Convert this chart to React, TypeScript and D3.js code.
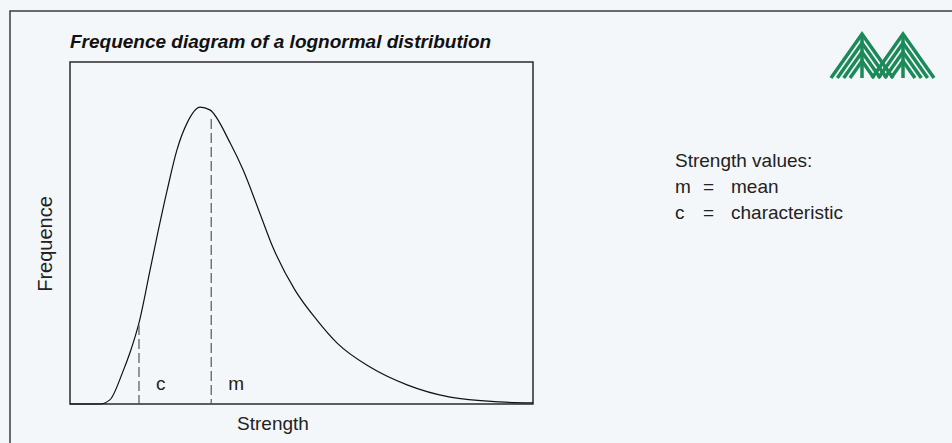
import React, { useEffect, useRef } from 'react';
import * as d3 from 'd3';

// Curve (strength and frequence in arbitrary 0-100 units)
const strengthValues = [0, 6.5, 8.6, 11.4, 13.0, 14.9, 17.3, 19.0, 21.0, 23.1, 25.3, 28.1, 30.2, 34.6, 37.4, 41.0, 43.8, 48.6, 53.3, 57.7, 64.8, 72.8, 82.1, 92.9, 100];
const frequenceValues = [0, 0, 1.2, 9.4, 15.2, 23.7, 39.2, 50.3, 62.6, 74.3, 82.2, 86.8, 86.0, 76.3, 68.4, 55.8, 45.9, 33.3, 24.6, 17.8, 10.8, 5.6, 2.0, 0.6, 0.3];

// Marker lines for characteristic and mean strength
const markerLabels = ['c', 'm'];
const markerStrength = [14.9, 30.5];
const markerTop = [23.1, 83.3];

const legendTitle = 'Strength values:';
const legendKeys = ['m', 'c'];
const legendNames = ['mean', 'characteristic'];

const title = 'Frequence diagram of a lognormal distribution';
const xLabel = 'Strength';
const yLabel = 'Frequence';

const W = 952;
const H = 443;
const FONT = '"Liberation Sans", Arial, Helvetica, sans-serif';

const App = () => {
  const svgRef = useRef<SVGSVGElement>(null);

  useEffect(() => {
    const svg = d3.select(svgRef.current);
    svg.selectAll('*').remove();

    // background + outer frame
    svg.append('rect').attr('width', W).attr('height', H).attr('fill', '#f4f7fa');
    svg.append('rect')
      .attr('x', 10).attr('y', 11)
      .attr('width', W + 20).attr('height', H + 20)
      .attr('fill', 'none').attr('stroke', '#3c3c3c').attr('stroke-width', 1.5);

    const box = { left: 70, top: 62, right: 533, bottom: 404 };

    const x = d3.scaleLinear().domain([0, 100]).range([box.left, box.right]);
    const y = d3.scaleLinear().domain([0, 100]).range([box.bottom, box.top]);

    // title
    svg.append('text')
      .attr('x', 70).attr('y', 48)
      .attr('font-family', FONT)
      .attr('font-size', 19)
      .attr('font-weight', 'bold')
      .attr('font-style', 'italic')
      .attr('fill', '#111')
      .text(title);

    // plot frame
    svg.append('rect')
      .attr('x', box.left).attr('y', box.top)
      .attr('width', box.right - box.left).attr('height', box.bottom - box.top)
      .attr('fill', 'none').attr('stroke', '#2a2a2a').attr('stroke-width', 1.5);

    // curve
    const pts = strengthValues.map((s, i) => [s, frequenceValues[i]] as [number, number]);
    const line = d3.line<[number, number]>()
      .x(d => x(d[0]))
      .y(d => y(d[1]))
      .curve(d3.curveMonotoneX);

    svg.append('path')
      .datum(pts)
      .attr('fill', 'none')
      .attr('stroke', '#111')
      .attr('stroke-width', 1.2)
      .attr('d', line);

    // marker lines + labels
    markerLabels.forEach((lab, i) => {
      svg.append('line')
        .attr('x1', x(markerStrength[i])).attr('x2', x(markerStrength[i]))
        .attr('y1', y(markerTop[i])).attr('y2', y(0))
        .attr('stroke', '#555')
        .attr('stroke-width', 1.2)
        .attr('stroke-dasharray', '10,4');

      svg.append('text')
        .attr('x', x(markerStrength[i]) + 17)
        .attr('y', y(0) - 14)
        .attr('font-family', FONT)
        .attr('font-size', 19)
        .attr('fill', '#222')
        .text(lab);
    });

    // axis labels
    svg.append('text')
      .attr('x', 273).attr('y', 430)
      .attr('text-anchor', 'middle')
      .attr('font-family', FONT)
      .attr('font-size', 19)
      .attr('fill', '#222')
      .text(xLabel);

    svg.append('text')
      .attr('transform', 'translate(52,244) rotate(-90)')
      .attr('text-anchor', 'middle')
      .attr('font-family', FONT)
      .attr('font-size', 20)
      .attr('fill', '#222')
      .text(yLabel);

    // legend
    const lg = svg.append('g').attr('font-family', FONT).attr('font-size', 19).attr('fill', '#222');
    lg.append('text').attr('x', 675).attr('y', 167).text(legendTitle);
    legendKeys.forEach((k, i) => {
      const yy = 193 + i * 26;
      lg.append('text').attr('x', 675).attr('y', yy).text(k);
      lg.append('text').attr('x', 703).attr('y', yy).text('=');
      lg.append('text').attr('x', 731).attr('y', yy).text(legendNames[i]);
    });

    // logo: two chevron trees
    const logo = svg.append('g').attr('stroke', '#1c8a58').attr('stroke-width', 3.5).attr('fill', 'none');
    const trees = [{ cx: 862, w: 31 }, { cx: 903, w: 31 }];
    const top = 34;
    const base = 78;
    const h = base - top;
    trees.forEach(t => {
      logo.append('line').attr('x1', t.cx).attr('x2', t.cx).attr('y1', top).attr('y2', base);
      for (let k = 0; k < 4; k++) {
        const sy = top + k * 9;
        const dx = (base - sy) * t.w / h;
        logo.append('polyline')
          .attr('points', `${t.cx - dx},${base} ${t.cx},${sy} ${t.cx + dx},${base}`);
      }
    });
  }, []);

  return (
    <div style={{ width: W, height: H, overflow: 'hidden', position: 'absolute', left: 0, top: 0 }}>
      <svg ref={svgRef} width={W} height={H} style={{ display: 'block' }} />
    </div>
  );
};

export default App;
